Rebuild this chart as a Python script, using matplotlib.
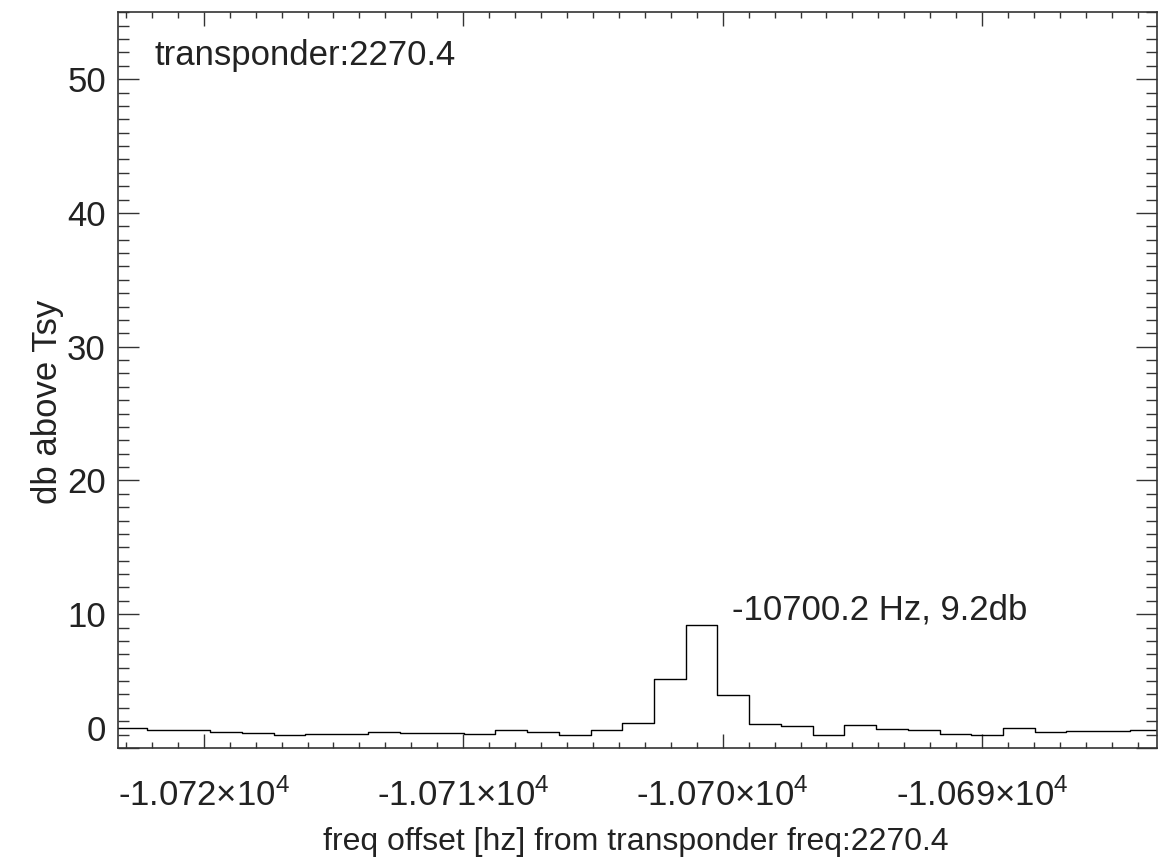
import numpy as np
import matplotlib
matplotlib.use('Agg')
import matplotlib.pyplot as plt
from matplotlib.ticker import MultipleLocator, FixedLocator, FixedFormatter

plt.rcParams['font.family'] = ['Liberation Sans', 'DejaVu Sans']
plt.rcParams['mathtext.fontset'] = 'custom'
plt.rcParams['mathtext.rm'] = 'Liberation Sans'
plt.rcParams['mathtext.it'] = 'Liberation Sans'

# right edge of each frequency bin [Hz] and the power in that bin [db]
freq = [-10723.43, -10722.20, -10720.98, -10719.76, -10718.54, -10717.31,
        -10716.09, -10714.87, -10713.65, -10712.42, -10711.20, -10709.98,
        -10708.76, -10707.53, -10706.31, -10705.09, -10703.87, -10702.64,
        -10701.42, -10700.20, -10698.98, -10697.76, -10696.53, -10695.31,
        -10694.09, -10692.87, -10691.64, -10690.42, -10689.20, -10687.98,
        -10686.76, -10685.53, -10684.31, -10683.09]
db = [1.46, 1.46, 1.33, 1.33, 1.20, 1.13,
      1.00, 1.03, 1.08, 1.23, 1.15, 1.10,
      1.05, 1.38, 1.23, 1.00, 1.33, 1.83,
      5.17, 9.22, 3.98, 1.80, 1.65, 0.98,
      1.68, 1.43, 1.33, 1.08, 0.95, 1.50,
      1.18, 1.28, 1.25, 1.38]

xticks = [-10720, -10710, -10700, -10690]
xticklabels = [r'-1.072$\times$10$^{4}$', r'-1.071$\times$10$^{4}$',
               r'-1.070$\times$10$^{4}$', r'-1.069$\times$10$^{4}$']
yticks = [0, 10, 20, 30, 40, 50]

transponder = 2270.4
peak_f = -10700.2
peak_db = 9.2

txt = '#222222'
fs = 25

fig = plt.figure(figsize=(11.58, 8.63), dpi=100)
ax = fig.add_axes([0.1022, 0.1333, 0.8972, 0.8525])

ax.plot(freq, db, drawstyle='steps-pre', color='black', lw=1.0)

ax.set_xlim(-10723.29, -10683.25)
ax.set_ylim(0, 55)

ax.xaxis.set_major_locator(FixedLocator(xticks))
ax.xaxis.set_major_formatter(FixedFormatter(xticklabels))
ax.xaxis.set_minor_locator(MultipleLocator(1))
ax.set_yticks(yticks)
ax.yaxis.set_minor_locator(MultipleLocator(1))

ax.tick_params(which='both', direction='in', top=True, right=True,
               color='#333333', width=1, labelsize=fs, labelcolor=txt)
ax.tick_params(axis='x', which='major', length=10, pad=22)
ax.tick_params(axis='x', which='minor', length=4.3)
ax.tick_params(axis='y', which='major', length=15, pad=9)
ax.tick_params(axis='y', which='minor', length=7.7)

# IDL keeps the 0 label inside the plot region
for lab in ax.get_yticklabels():
    if lab.get_text() == '0':
        lab.set_va('bottom')

for s in ax.spines.values():
    s.set_color('#333333')
    s.set_linewidth(1.2)

ax.set_xlabel('freq offset [hz] from transponder freq:%.1f' % transponder,
              fontsize=23, color=txt)
ax.xaxis.set_label_coords(0.498, -0.107)
ax.xaxis.label.set_va('top')
ax.set_ylabel('db above Tsy', fontsize=fs, color=txt)
ax.yaxis.set_label_coords(-0.052, 0.47)

ax.text(0.035, 0.928, 'transponder:%.1f' % transponder, transform=ax.transAxes,
        fontsize=fs, color=txt, ha='left', va='baseline')
ax.text(peak_f + 0.55, peak_db + 0.4, '%.1f Hz, %.1fdb' % (peak_f, peak_db),
        fontsize=fs, color=txt, ha='left', va='baseline')

fig.savefig('out.png', dpi=100)
